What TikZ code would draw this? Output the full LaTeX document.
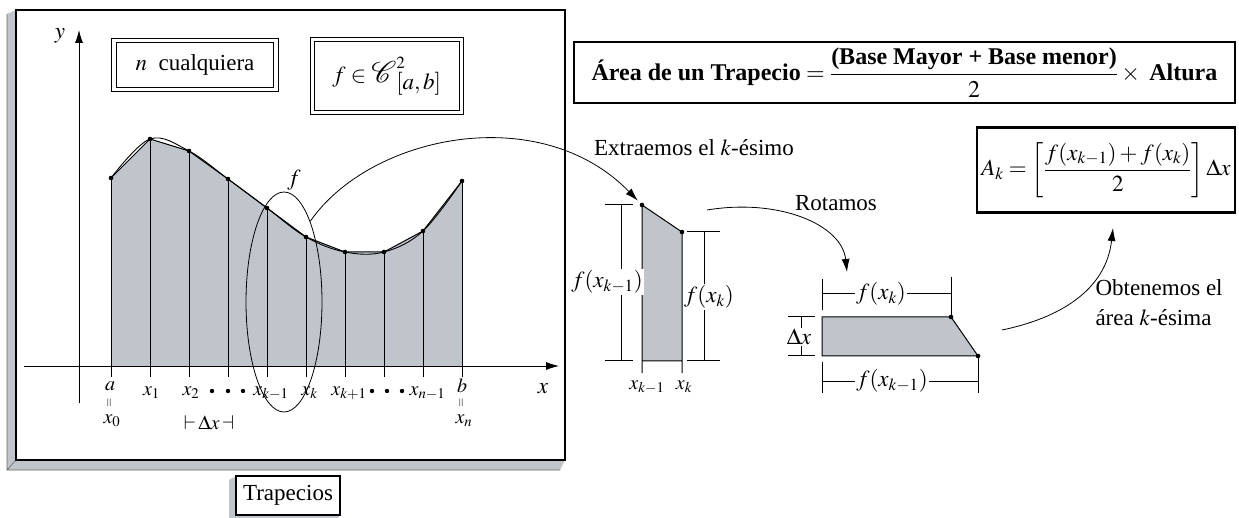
\documentclass[tikz,border=0pt]{standalone}
\usepackage{amsmath}
\usepackage{mathptmx}
\usepackage{fontspec}
\setmainfont{Liberation Serif}
\usetikzlibrary{calc, arrows.meta, shapes.geometric}
\definecolor{panel}{RGB}{192,197,204}

\begin{document}
\begin{tikzpicture}[x=1pt, y=-1pt, line width=1pt,
  every node/.style={inner sep=0pt, font=\fontsize{23}{30}\selectfont},
  lbl/.style={font=\fontsize{20}{22}\selectfont},
  dbox/.style={draw, double, double distance=3.5pt, line width=0.9pt},
  bbox/.style={draw, line width=2.5pt},
  dimlab/.style={fill=white, inner sep=1.5pt},
  arrowcurve/.style={line width=0.8pt, -{Latex[length=13pt, width=8pt]}}]
  \useasboundingbox (0,0) rectangle (1239,518);
  % marco principal con bisel gris
  \fill[panel] (7,14) -- (16,10) -- (16,460) -- (565,460) -- (560,470) -- (7,470) -- cycle;
  \draw[line width=0.6pt, black!60] (7,14) -- (7,470) -- (560,470) (7,470) -- (16,460);
  \draw[line width=2.5pt] (16,10) rectangle (565,460);
  \node[dbox, minimum width=162, minimum height=49] (ncual) at (195,65) {$n$\ \ cualquiera};
  \node[dbox, minimum width=149, minimum height=73] (clase) at (387,76)
    {$f\in\text{\fontsize{30}{30}\selectfont$\mathcal{C}$}^{2}_{\textstyle[a,b]}$};
  % ejes
  \coordinate (ybot) at (79,403);
  \coordinate (ytop) at (79,30);
  \coordinate (xleft) at (24,366);
  \coordinate (xright) at (559,366);
  % particion x_i = 111 + 39 i
  \foreach \i/\fy in {0/178, 1/139, 2/151, 3/179, 4/208, 5/237, 6/252, 7/252, 8/231, 9/181}
    \coordinate (p\i) at ({111+39*\i},\fy);
  \fill[panel] (111,366) -- (p0) -- (p1) -- (p2) -- (p3) -- (p4) -- (p5) -- (p6) -- (p7) -- (p8) -- (p9) -- (462,366) -- cycle;
  \foreach \i in {0,...,9} \draw (p\i) -- ({111+39*\i},377);
  \draw (p0) -- (p1) -- (p2) -- (p3) -- (p4) -- (p5) -- (p6) -- (p7) -- (p8) -- (p9);
  \draw[line width=0.9pt] plot[smooth, tension=0.6] coordinates {(p0) (p1) (p2) (p3) (p4) (p5) (p6) (p7) (p8) (p9)};
  \foreach \i in {0,...,9} \fill (p\i) circle (2.3);
  \draw[arrowcurve] (ybot) -- (ytop);
  \draw[arrowcurve] (xleft) -- (xright);
  \node (ylab) at (60,36) {$y$};
  \node (xlab) at (543,389) {$x$};
  % etiquetas del eje x
  \foreach \nm/\xx/\lab in {t1/151.5/x_1, t2/191/x_2, t4/271/x_{k-1}, t5/309.5/x_k, t6/349/x_{k+1}, t8/427.5/x_{n-1}}
    \node[lbl] (\nm) at (\xx,393) {$\lab$};
  \foreach \nm/\xx/\top/\bot in {a/110/a/x_0, b/462/b/x_n} {
    \node[lbl] (l\nm) at (\xx,386) {$\top$};
    \node[rotate=90, font=\fontsize{12}{12}\selectfont] (e\nm) at (\xx,403) {$=$};
    \node[lbl] (s\nm) at (\xx+2,421) {$\bot$};
  }
  \foreach \xx in {212,228,243,372,387,402} \fill (\xx,391) circle (2.2);
  \node[lbl] (dx) at (209,423) {$\vdash\!\Delta x\!\dashv$};
  % seleccion del k-esimo
  \node[draw, ellipse, line width=0.8pt, minimum width=76, minimum height=220] (sel) at (284,302) {};
  \node (flab) at (294,180) {$f$};
  % formulas
  \node[bbox, minimum width=661, minimum height=61] (area) at (904.5,72.5)
    {\fontsize{24}{28}\selectfont $\textbf{Área de un Trapecio}=\dfrac{\textbf{(Base Mayor + Base menor)}}{2}\times\ \textbf{Altura}$};
  \node[bbox, minimum width=258, minimum height=85] (ak) at (1106,170)
    {$A_k=\left[\dfrac{f(x_{k-1})+f(x_k)}{2}\right]\Delta x$};
  % trapecio extraido
  \coordinate (ta) at (642,205);
  \coordinate (tb) at (682,232);
  \fill[panel] (642,361) -- (ta) -- (tb) -- (682,361) -- cycle;
  \draw (642,373) -- (ta) -- (tb) -- (682,373) (642,361) -- (682,361);
  \fill (ta) circle (2.3) (tb) circle (2.3);
  \draw (605,205) -- (633,205) (605,361) -- (633,361) (621,205) -- (621,361);
  \node[dimlab] (fl) at (607,282) {$f(x_{k-1})$};
  \draw (687,232) -- (720,232) (687,361) -- (720,361) (704,232) -- (704,361);
  \node[dimlab] (fr) at (709,297) {$f(x_k)$};
  \node[lbl] (xa) at (647,387) {$x_{k-1}$};
  \node[lbl] (xb) at (684,387) {$x_k$};
  % trapecio rotado
  \coordinate (ra) at (951,317);
  \coordinate (rb) at (978,356);
  \fill[panel] (822,317) -- (ra) -- (rb) -- (822,356) -- cycle;
  \draw (822,317) -- (ra) -- (rb) -- (822,356) -- cycle;
  \fill (ra) circle (2.3) (rb) circle (2.3);
  \draw (822,279) -- (822,310) (951,277) -- (ra) (822,294) -- (951,294);
  \node[dimlab] (fk) at (881,294) {$f(x_k)$};
  \draw (822,362) -- (822,393) (rb) -- (978,393) (822,381) -- (978,381);
  \node[dimlab] (fk1) at (892,381) {$f(x_{k-1})$};
  \draw (788,317) -- (815,317) (788,356) -- (815,356) (801,317) -- (801,356);
  \node[dimlab] (hx) at (799,337) {$\Delta x$};
  % textos
  \node (extr) at (694,148) {Extraemos el $k$-ésimo};
  \node (rot) at (836,203) {Rotamos};
  \node[align=left, anchor=west] (obt) at (1095,303) {Obtenemos el\\área $k$-ésima};
  % flechas
  \coordinate (r0) at (707,210);
  \coordinate (rtip) at (847,272);
  \coordinate (o0) at (1002,330);
  \coordinate (otip) at (1113,228);
  \draw[arrowcurve, shorten >=6pt] (sel.72) .. controls (370,135) and (540,100) .. (ta);
  \draw[arrowcurve] (r0) .. controls (780,198) and (842,225) .. (rtip);
  \draw[arrowcurve] (o0) .. controls (1060,318) and (1106,290) .. (otip);
  % caja Trapecios
  \fill[panel] (229,480) -- (236,476) -- (236,515) -- (340,515) -- (338,518) -- (229,518) -- cycle;
  \node[bbox, fill=white, minimum width=104, minimum height=39] (trap) at (288,495.5) {Trapecios};
\end{tikzpicture}
\end{document}
